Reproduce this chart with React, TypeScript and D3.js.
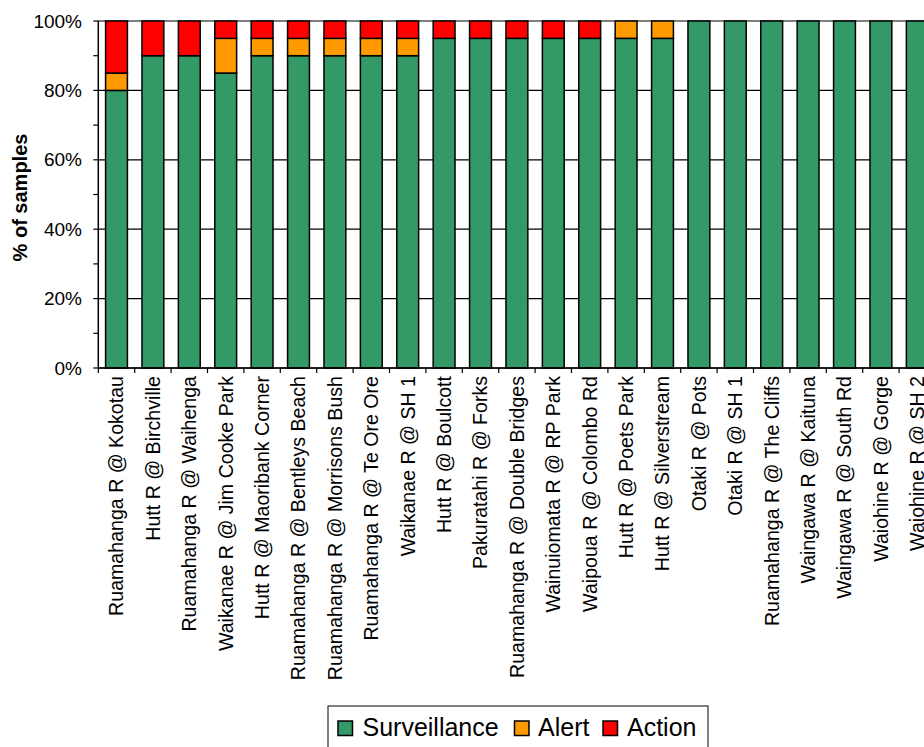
import React from "react";
import * as d3 from "d3";

const categories = [
  "Ruamahanga R @ Kokotau",
  "Hutt R @ Birchville",
  "Ruamahanga R @ Waihenga",
  "Waikanae R @ Jim Cooke Park",
  "Hutt R @ Maoribank Corner",
  "Ruamahanga R @ Bentleys Beach",
  "Ruamahanga R @ Morrisons Bush",
  "Ruamahanga R @ Te Ore Ore",
  "Waikanae R @ SH 1",
  "Hutt R @ Boulcott",
  "Pakuratahi R @ Forks",
  "Ruamahanga R @ Double Bridges",
  "Wainuiomata R @ RP Park",
  "Waipoua R @ Colombo Rd",
  "Hutt R @ Poets Park",
  "Hutt R @ Silverstream",
  "Otaki R @ Pots",
  "Otaki R @ SH 1",
  "Ruamahanga R @ The Cliffs",
  "Waingawa R @ Kaituna",
  "Waingawa R @ South Rd",
  "Waiohine R @ Gorge",
  "Waiohine R @ SH 2",
];

const surveillance = [80, 90, 90, 85, 90, 90, 90, 90, 90, 95, 95, 95, 95, 95, 95, 95, 100, 100, 100, 100, 100, 100, 100];
const alert = [5, 0, 0, 10, 5, 5, 5, 5, 5, 0, 0, 0, 0, 0, 5, 5, 0, 0, 0, 0, 0, 0, 0];
const action = [15, 10, 10, 5, 5, 5, 5, 5, 5, 5, 5, 5, 5, 5, 0, 0, 0, 0, 0, 0, 0, 0, 0];

const seriesNames = ["Surveillance", "Alert", "Action"];
const seriesColors = ["#339966", "#FF9900", "#FF0000"];
const yTicks = [0, 20, 40, 60, 80, 100];
const yMinorTicks = [0, 10, 20, 30, 40, 50, 60, 70, 80, 90, 100];

const FONT = "Arial, 'Liberation Sans', sans-serif";

export default function App() {
  const W = 924, H = 747;
  const plotLeft = 98.3;
  const step = 36.4;
  const plotTop = 21;
  const plotBottom = 368;
  const plotRight = plotLeft + step * categories.length;

  const x = d3.scaleBand<string>().domain(categories).range([plotLeft, plotRight]).padding(0);
  const y = d3.scaleLinear().domain([0, 100]).range([plotBottom, plotTop]);
  const barW = x.bandwidth() * 0.6;

  const rows = categories.map((c, i) => ({ cat: c, Surveillance: surveillance[i], Alert: alert[i], Action: action[i] }));
  const stacked = d3.stack<any>().keys(seriesNames)(rows);

  const legendItems = [
    { name: "Surveillance", sq: 338, tx: 362.5 },
    { name: "Alert", sq: 514.5, tx: 538 },
    { name: "Action", sq: 603, tx: 627 },
  ];

  return (
    <svg width={W} height={H} style={{ position: "absolute", left: 0, top: 0, background: "#fff" }} fontFamily={FONT}>
      <rect x={0} y={0} width={W} height={H} fill="#fff" />
      {/* gridlines */}
      {yTicks.map((t) => (
        <line key={"g" + t} x1={plotLeft} x2={plotRight} y1={y(t)} y2={y(t)} stroke="#000" strokeWidth={1.2} />
      ))}
      {/* bars */}
      {stacked.map((s, si) => (
        <g key={s.key}>
          {s.map((d: any, i: number) => {
            const h = y(d[0]) - y(d[1]);
            if (h <= 0) return null;
            const cx = (x(categories[i]) as number) + x.bandwidth() / 2;
            return (
              <rect key={i} x={cx - barW / 2} y={y(d[1])} width={barW} height={h}
                fill={seriesColors[si]} stroke="#000" strokeWidth={1.5} />
            );
          })}
        </g>
      ))}
      {/* y axis */}
      <line x1={plotLeft} x2={plotLeft} y1={plotTop} y2={plotBottom} stroke="#000" strokeWidth={1.5} />
      {yMinorTicks.map((t) => (
        <line key={"yt" + t} x1={plotLeft - 5} x2={plotLeft} y1={y(t)} y2={y(t)} stroke="#000" strokeWidth={1.2} />
      ))}
      {yTicks.map((t) => (
        <text key={"yl" + t} x={82} y={y(t)} dy="0.35em" textAnchor="end" fontSize={19} fill="#000">{t}%</text>
      ))}
      {/* x axis */}
      <line x1={plotLeft} x2={plotRight} y1={plotBottom} y2={plotBottom} stroke="#000" strokeWidth={1.5} />
      {categories.map((c, i) => (
        <line key={"xt" + i} x1={(x(c) as number)} x2={(x(c) as number)} y1={plotBottom} y2={plotBottom + 5} stroke="#000" strokeWidth={1.2} />
      ))}
      {categories.map((c) => {
        const cx = (x(c) as number) + x.bandwidth() / 2;
        return (
          <text key={"xl" + c} transform={`translate(${cx},376) rotate(-90)`} dy="0.35em" textAnchor="end" fontSize={19.6} fill="#000">{c}</text>
        );
      })}
      {/* y title */}
      <text transform={`translate(19.5,197.5) rotate(-90)`} dy="0.35em" textAnchor="middle" fontSize={20} fontWeight="bold" fill="#000">% of samples</text>
      {/* legend */}
      <rect x={328} y={706} width={380} height={60} fill="#fff" stroke="#000" strokeWidth={1} />
      {legendItems.map((it, i) => (
        <g key={it.name}>
          <rect x={it.sq} y={721} width={14.5} height={14.5} fill={seriesColors[i]} stroke="#000" strokeWidth={1.5} />
          <text x={it.tx} y={736} fontSize={25} fill="#000">{it.name}</text>
        </g>
      ))}
    </svg>
  );
}
